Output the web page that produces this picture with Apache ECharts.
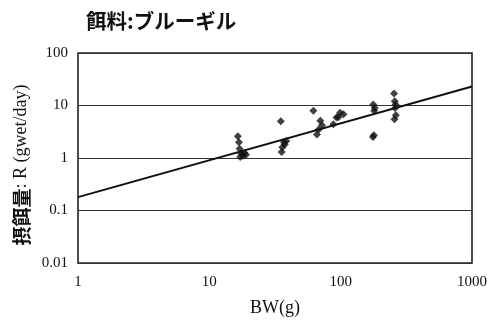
<!DOCTYPE html>
<html>
<head>
<meta charset="utf-8">
<script src="https://cdn.jsdelivr.net/npm/echarts@6/dist/echarts.min.js"></script>
<style>
  html, body { margin: 0; padding: 0; background: #fff; }
  #chart { width: 498px; height: 323px; }
</style>
</head>
<body>
<div id="chart"></div>
<script>
// Body weight (g) and daily ration R (gwet/day) for each observed fish
const bodyWeight = [
  16.5, 16.8, 17.0, 17.5, 18.0, 18.5, 19.0, 17.2,
  35.0, 37.0, 38.5, 36.0, 35.5, 37.5,
  62, 66, 68, 70, 72, 88, 93, 99, 105, 96,
  177, 180, 182, 176, 179,
  255, 258, 262, 260, 257, 263
];
const ration = [
  2.6, 2.0, 1.5, 1.2, 1.1, 1.25, 1.15, 1.05,
  5.0, 2.0, 2.1, 1.6, 1.3, 1.8,
  7.9, 2.8, 3.5, 5.1, 4.2, 4.4, 5.9, 7.3, 6.8, 6.0,
  10.5, 7.9, 9.0, 2.5, 2.7,
  17.0, 12.0, 10.5, 9.0, 5.5, 6.5
];
// Fitted power-law line, end points across the axis range
const fitBW = [1, 1000];
const fitR = [0.18, 23];

const xTicks = [1, 10, 100, 1000];
const yTicks = [0.01, 0.1, 1, 10, 100];

const serif = '"Liberation Serif", "Times New Roman", serif';
const cjk = '"Noto Sans CJK JP", sans-serif';

const chart = echarts.init(document.getElementById('chart'), null, { renderer: 'canvas' });
chart.setOption({
  backgroundColor: '#fff',
  animation: false,
  title: {
    text: '餌料:ブルーギル',
    left: 81, top: 6,
    textStyle: { fontFamily: cjk, fontSize: 20.5, fontWeight: 'bold', color: '#111' }
  },
  grid: {
    left: 78, right: 26, top: 53, bottom: 60,
    show: true, borderColor: '#222', borderWidth: 1.6, backgroundColor: '#fff'
  },
  xAxis: {
    type: 'log', logBase: 10, min: 1, max: 1000,
    name: 'BW(g)', nameLocation: 'middle', nameGap: 36,
    nameTextStyle: { fontFamily: serif, fontSize: 18, color: '#111' },
    axisLine: { show: false }, axisTick: { show: false },
    splitLine: { show: false },
    axisLabel: {
      fontFamily: serif, fontSize: 15, color: '#111', margin: 12,
      formatter: v => xTicks.includes(v) ? String(v) : ''
    }
  },
  yAxis: {
    type: 'log', logBase: 10, min: 0.01, max: 100,
    name: '{a|摂餌量}{b|: R (gwet/day)}', nameLocation: 'middle', nameGap: 41, nameRotate: 90,
    nameTextStyle: {
      padding: [0, 14, 0, 0],
      rich: {
        a: { fontFamily: cjk, fontSize: 19, fontWeight: 'bold', color: '#111' },
        b: { fontFamily: serif, fontSize: 18, color: '#111' }
      }
    },
    axisLine: { show: false }, axisTick: { show: false },
    splitLine: { show: true, lineStyle: { color: '#333', width: 1.2 } },
    axisLabel: {
      fontFamily: serif, fontSize: 15, color: '#111', margin: 10,
      formatter: v => {
        const t = yTicks.find(k => Math.abs(Math.log10(k) - Math.log10(v)) < 1e-6);
        return t === undefined ? '' : String(t);
      }
    }
  },
  series: [
    {
      type: 'line',
      data: fitBW.map((b, i) => [b, fitR[i]]),
      showSymbol: false,
      lineStyle: { color: '#111', width: 2 },
      z: 3
    },
    {
      type: 'scatter',
      data: bodyWeight.map((b, i) => [b, ration[i]]),
      symbol: 'diamond',
      symbolSize: 8,
      itemStyle: { color: '#111' },
      z: 4
    }
  ]
});
</script>
</body>
</html>
